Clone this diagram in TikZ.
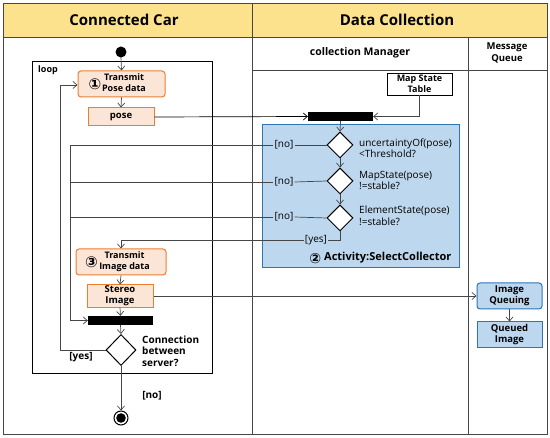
\documentclass[tikz,border=0pt]{standalone}
\usepackage{fontspec}
\setmainfont{Open Sans}
\newfontfamily\symf{DejaVu Sans}
\usetikzlibrary{shapes.geometric,arrows.meta}
\definecolor{hdr}{RGB}{252,226,140}
\definecolor{orB}{RGB}{237,125,49}
\definecolor{orF}{RGB}{251,229,214}
\definecolor{blB}{RGB}{46,117,182}
\definecolor{blF}{RGB}{189,215,238}
\definecolor{ln}{RGB}{70,70,70}
\newcommand{\cnum}[1]{\rlap{\hspace{0pt}$\vcenter{\hbox{\symf\fontsize{15}{15}\selectfont #1}}$}}
\tikzset{
  lane/.style={draw=ln, line width=0.9pt},
  act/.style={draw=orB, fill=orF, line width=1pt, rounded corners=3pt, minimum width=87pt, minimum height=26pt, inner sep=1pt, font=\fontsize{9}{10.5}\selectfont\bfseries, align=center},
  obj/.style={draw=orB, fill=orF, line width=1pt, minimum width=66pt, inner sep=1pt, font=\fontsize{9.5}{11}\selectfont\bfseries, align=center},
  bact/.style={draw=blB, fill=blF, line width=1pt, minimum width=65pt, minimum height=26pt, inner sep=1pt, font=\fontsize{9.5}{11}\selectfont\bfseries, align=center},
  bar/.style={fill=black, minimum width=65pt, minimum height=9pt, inner sep=0pt},
  dec/.style={diamond, draw=black, fill=white, line width=1pt, minimum width=26pt, minimum height=26pt, inner sep=0pt},
  conn/.style={draw=ln, line width=0.7pt},
  arr/.style={conn, -{Straight Barb[length=4pt,width=7pt]}},
  lbl/.style={font=\fontsize{10}{11.5}\selectfont, inner sep=1pt, align=left},
  blbl/.style={font=\fontsize{10}{11.5}\selectfont\bfseries, inner sep=1pt, align=left},
}
\begin{document}
\begin{tikzpicture}[x=1pt,y=-1pt]
\useasboundingbox (0,0) rectangle (550,438);
% swimlanes
\fill[hdr] (3,3) rectangle (547,37);
\draw[lane] (3,3) rectangle (547,434);
\draw[lane] (3,37) -- (547,37);
\draw[lane] (252,3) -- (252,434);
\draw[lane] (468,37) -- (468,434);
\draw[lane] (252,70) -- (547,70);
\node[font=\fontsize{15}{17}\selectfont\bfseries] (h1) at (124,20) {Connected Car};
\node[font=\fontsize{15}{17}\selectfont\bfseries] (h2) at (397,20) {Data Collection};
\node[font=\fontsize{10.5}{12}\selectfont\bfseries] (h3) at (360,53) {collection Manager};
\node[font=\fontsize{9.5}{11.5}\selectfont\bfseries, align=center] (h4) at (507,53) {Message\\Queue};
% loop frame
\draw[draw=black, line width=0.8pt] (32,61) rectangle (212,373);
\node[blbl, anchor=west, font=\fontsize{9}{10}\selectfont\bfseries] (looplbl) at (37,70) {loop};
% blue activity box
\draw[draw=blB, fill=blF, line width=1pt] (262,125) rectangle (459,268);
\node[font=\fontsize{11}{13}\selectfont\bfseries, anchor=east] (actlbl) at (455,258) {$\vcenter{\hbox{\symf\fontsize{14}{14}\selectfont ②}}$ Activity:SelectCollector};
% nodes
\fill (121,52) circle (5.5);
\coordinate (start) at (121,57);
\node[act] (tp) at (121.5,84) {\makebox[83pt]{\cnum{①}\hfil\hspace{5pt}\begin{tabular}{@{}c@{}}Transmit\\Pose data\end{tabular}\hfil}};
\node[obj, minimum height=18pt] (pose) at (121,117) {pose};
\node[bar] (bar1) at (340.5,116.5) {};
\node[draw=black, line width=0.8pt, fill=white, minimum width=65pt, minimum height=22pt, inner sep=1pt, font=\fontsize{9}{10.5}\selectfont\bfseries, align=center] (mst) at (419.5,84) {Map State\\Table};
\node[dec] (d1) at (340,145) {};
\node[dec] (d2) at (340,181) {};
\node[dec] (d3) at (340,218) {};
\node[lbl, anchor=west] (t1) at (358,148) {uncertaintyOf(pose)\\<Threshold?};
\node[lbl, anchor=west] (t2) at (358,180.5) {MapState(pose)\\!=stable?};
\node[lbl, anchor=west] (t3) at (358,216) {ElementState(pose)\\!=stable?};
\node[lbl] (n1) at (284,145) {[no]};
\node[lbl] (n2) at (284,182) {[no]};
\node[lbl] (n3) at (284,217) {[no]};
\node[lbl] (y1) at (316,240) {[yes]};
\node[act, minimum width=90pt] (ti) at (121,262) {\makebox[86pt]{\cnum{③}\hfil\hspace{7pt}\begin{tabular}{@{}c@{}}Transmit\\Image data\end{tabular}\hfil}};
\node[obj, minimum height=22pt] (st) at (120,296) {Stereo\\Image};
\node[bar] (bar2) at (120.5,320.5) {};
\node[dec, minimum width=30pt, minimum height=31pt] (d4) at (121,350) {};
\node[blbl, anchor=west] (t4) at (141,351) {Connection\\between\\server?};
\node[blbl] (y2) at (81,357) {[yes]};
\node[blbl] (n4) at (152,396) {[no]};
\node[circle, draw=black, line width=1pt, minimum size=14pt, inner sep=0pt] (end) at (121,418) {};
\fill (end.center) circle (4.8);
\node[bact, rounded corners=3pt] (iq) at (509.5,296) {Image\\Queuing};
\node[bact] (qi) at (509.5,335) {Queued\\Image};
% connectors
\draw[arr] (start) -- (tp.north);
\draw[arr] (tp.south) -- (pose.north);
\draw[arr, draw=black] (pose.east) -- (bar1.west);
\draw[arr] (mst.south) |- (bar1.east);
\draw[arr] (bar1.south) -- (d1.north);
\draw[arr] (d1.south) -- (d2.north);
\draw[arr] (d2.south) -- (d3.north);
\coordinate (c1) at (70,145);
\coordinate (c2) at (70,182);
\coordinate (c3) at (70,217);
\coordinate (cb) at (70,320.5);
\draw[conn] (d1.west) -- (n1.east);
\draw[conn] (d2.west) -- (n2.east);
\draw[conn] (d3.west) -- (n3.east);
\draw[conn] (n1.west) -- (c1);
\draw[conn] (n2.west) -- (c2);
\draw[conn] (n3.west) -- (c3);
\draw[arr] (c1) -- (cb) -- (bar2.west);
\draw[conn] (d3.south) |- (y1.east);
\coordinate (cy) at (121,240);
\draw[arr] (y1.west) -- (cy) -- (ti.north);
\draw[arr] (ti.south) -- (st.north);
\draw[arr] (st.south) -- (bar2.north);
\draw[arr] (st.east) -- (iq.west);
\draw[arr] (iq.south) -- (qi.north);
\draw[arr] (bar2.south) -- (d4.north);
\coordinate (cl1) at (60,350);
\coordinate (cl2) at (60,85);
\draw[arr] (d4.west) -- (cl1) -- (cl2) -- (tp.west |- cl2);
\draw[arr] (d4.south) -- (end.north);
\end{tikzpicture}
\end{document}
